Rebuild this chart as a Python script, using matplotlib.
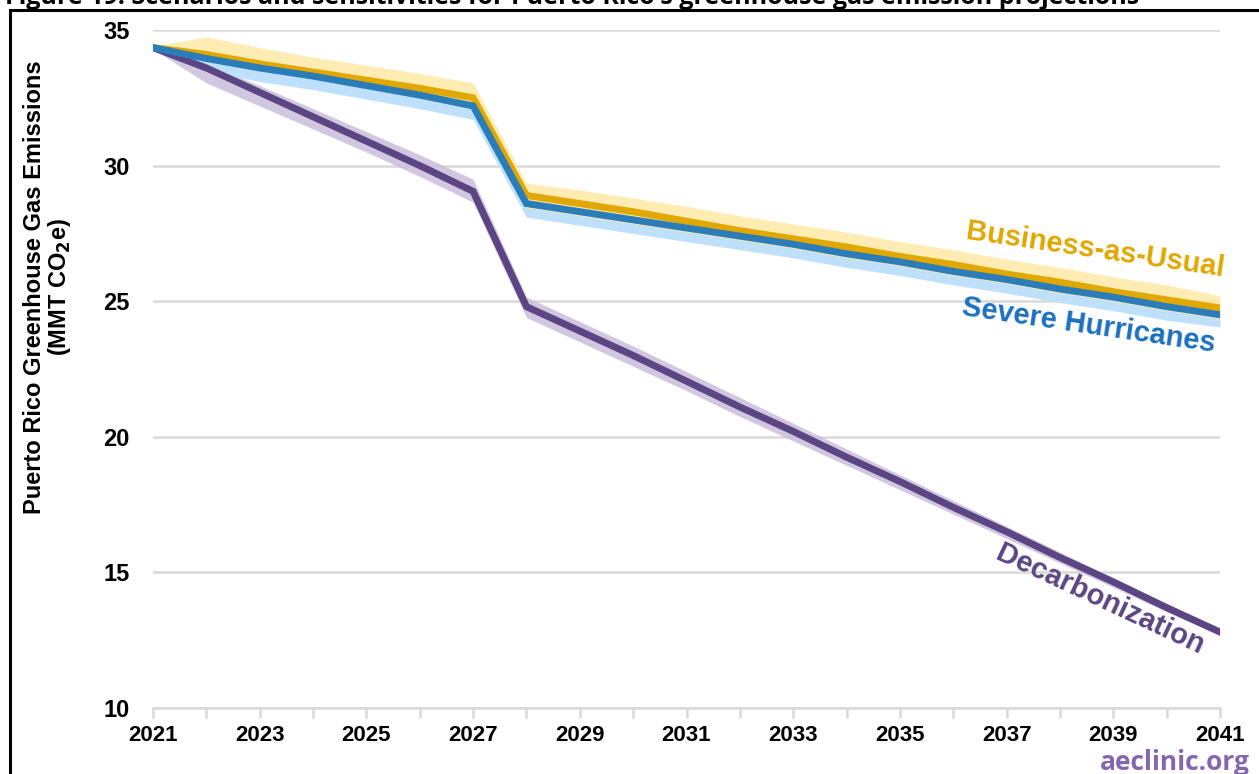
import matplotlib.pyplot as plt
from matplotlib.patches import Rectangle

years = list(range(2021, 2042))

bau = [34.35, 34.1, 33.75, 33.45, 33.15, 32.85, 32.5, 28.9, 28.6, 28.3, 27.95,
       27.6, 27.3, 27.0, 26.65, 26.35, 26.0, 25.7, 25.35, 25.05, 24.75]
bau_hi = [34.4, 34.75, 34.35, 34.0, 33.7, 33.4, 33.05, 29.35, 29.1, 28.8, 28.5,
          28.15, 27.85, 27.55, 27.2, 26.9, 26.55, 26.25, 25.9, 25.6, 25.2]
bau_lo = [34.3, 33.85, 33.5, 33.2, 32.85, 32.5, 32.1, 28.45, 28.15, 27.85, 27.55,
          27.25, 26.95, 26.6, 26.3, 25.95, 25.65, 25.3, 25.0, 24.65, 24.35]

hurr = [34.35, 33.95, 33.6, 33.3, 32.95, 32.6, 32.2, 28.6, 28.3, 28.0, 27.7,
        27.4, 27.1, 26.75, 26.45, 26.1, 25.8, 25.45, 25.15, 24.8, 24.5]
hurr_hi = [34.4, 34.15, 33.8, 33.5, 33.15, 32.8, 32.4, 28.8, 28.5, 28.2, 27.9,
           27.6, 27.3, 26.95, 26.65, 26.3, 26.0, 25.65, 25.35, 25.0, 24.7]
hurr_lo = [34.3, 33.5, 33.1, 32.8, 32.45, 32.1, 31.7, 28.1, 27.8, 27.5, 27.2,
           26.9, 26.6, 26.25, 25.95, 25.6, 25.3, 24.95, 24.65, 24.3, 24.05]

decarb = [34.35, 33.6, 32.7, 31.8, 30.9, 30.0, 29.05, 24.8, 23.9, 23.0, 22.05,
          21.1, 20.2, 19.25, 18.35, 17.4, 16.5, 15.55, 14.65, 13.7, 12.8]
decarb_hi = [34.4, 33.75, 32.95, 32.1, 31.25, 30.4, 29.5, 25.15, 24.25, 23.35, 22.4,
             21.45, 20.5, 19.55, 18.6, 17.65, 16.7, 15.75, 14.8, 13.85, 12.9]
decarb_lo = [34.3, 33.05, 32.2, 31.35, 30.5, 29.6, 28.65, 24.4, 23.5, 22.6, 21.7,
             20.75, 19.85, 18.95, 18.05, 17.15, 16.25, 15.35, 14.45, 13.55, 12.7]

yticks = [10, 15, 20, 25, 30, 35]
xticks = list(range(2021, 2042, 2))

gold, gold_light = "#E0A800", "#FFE9A6"
blue, blue_light = "#2A7DB8", "#BEE0FA"
purple, purple_light = "#5B4583", "#C9BEDB"

plt.rcParams['font.family'] = ['Liberation Sans', 'DejaVu Sans']

fig = plt.figure(figsize=(12.59, 7.74), dpi=100)
ax = fig.add_axes([153 / 1259, 1 - 708 / 774, (1220 - 153) / 1259, (708 - 30) / 774])

# bands first, then lines on top
ax.fill_between(years, decarb_lo, decarb_hi, color=purple_light, alpha=0.85, lw=0, zorder=2)
ax.fill_between(years, hurr_lo, hurr_hi, color=blue_light, lw=0, zorder=2)
ax.fill_between(years, bau_lo, bau_hi, color=gold_light, alpha=0.85, lw=0, zorder=3)
ax.plot(years, decarb, color=purple, lw=5, zorder=4, solid_joinstyle='miter')
ax.plot(years, bau, color=gold, lw=5, zorder=5, solid_joinstyle='miter')
ax.plot(years, hurr, color=blue, lw=5, zorder=6, solid_joinstyle='miter')

ax.set_xlim(2021, 2041)
ax.set_ylim(10, 35)
ax.set_yticks(yticks)
ax.set_xticks(xticks)
ax.set_xticks(years, minor=True)
ax.grid(axis='y', color='#D9D9D9', lw=1.8, zorder=0)
ax.set_axisbelow(True)
for s in ['top', 'right', 'left']:
    ax.spines[s].set_visible(False)
ax.spines['bottom'].set_color('#D9D9D9')
ax.spines['bottom'].set_linewidth(1.8)
ax.tick_params(axis='y', length=0, pad=17, labelsize=17)
ax.tick_params(axis='x', which='both', length=7, width=1.8, color='#D9D9D9',
               labelsize=16, pad=5)
for lab in ax.get_xticklabels() + ax.get_yticklabels():
    lab.set_fontweight('bold')

fig.text(48 / 1259, 1 - 287 / 774,
         "Puerto Rico Greenhouse Gas Emissions\n(MMT CO$_\\mathbf{2}$e)",
         rotation=90, ha='center', va='center', fontsize=17, fontweight='bold',
         linespacing=1.0)

ax.text(2038.66, 26.9, "Business-as-Usual", color=gold, fontsize=21, fontweight='bold',
        rotation=-8.3, ha='center', va='center')
ax.text(2038.53, 24.1, "Severe Hurricanes", color="#1C70C0", fontsize=21, fontweight='bold',
        rotation=-8.3, ha='center', va='center')
ax.text(2038.75, 14.0, "Decarbonization", color=purple, fontsize=21, fontweight='bold',
        rotation=-25, ha='center', va='center')

fig.text(1250 / 1259, 1 - 763 / 774, "aeclinic.org", color="#8466AE", fontsize=19,
         fontweight='bold', family=['Open Sans', 'DejaVu Sans'], ha='right', va='center')

# cut-off caption and frame at the top
fig.text(5 / 1259, 1 - 4 / 774,
         "Figure 19. Scenarios and sensitivities for Puerto Rico's greenhouse gas emission projections",
         fontsize=18, fontweight='bold', family=['Open Sans', 'DejaVu Sans'],
         ha='left', va='baseline')
fig.patches.append(Rectangle((10 / 1259, -0.05), 1.1, 1 - 10 / 774 + 0.05,
                             transform=fig.transFigure, fill=False, ec='black', lw=2.2))

fig.savefig("out.png", dpi=100)
